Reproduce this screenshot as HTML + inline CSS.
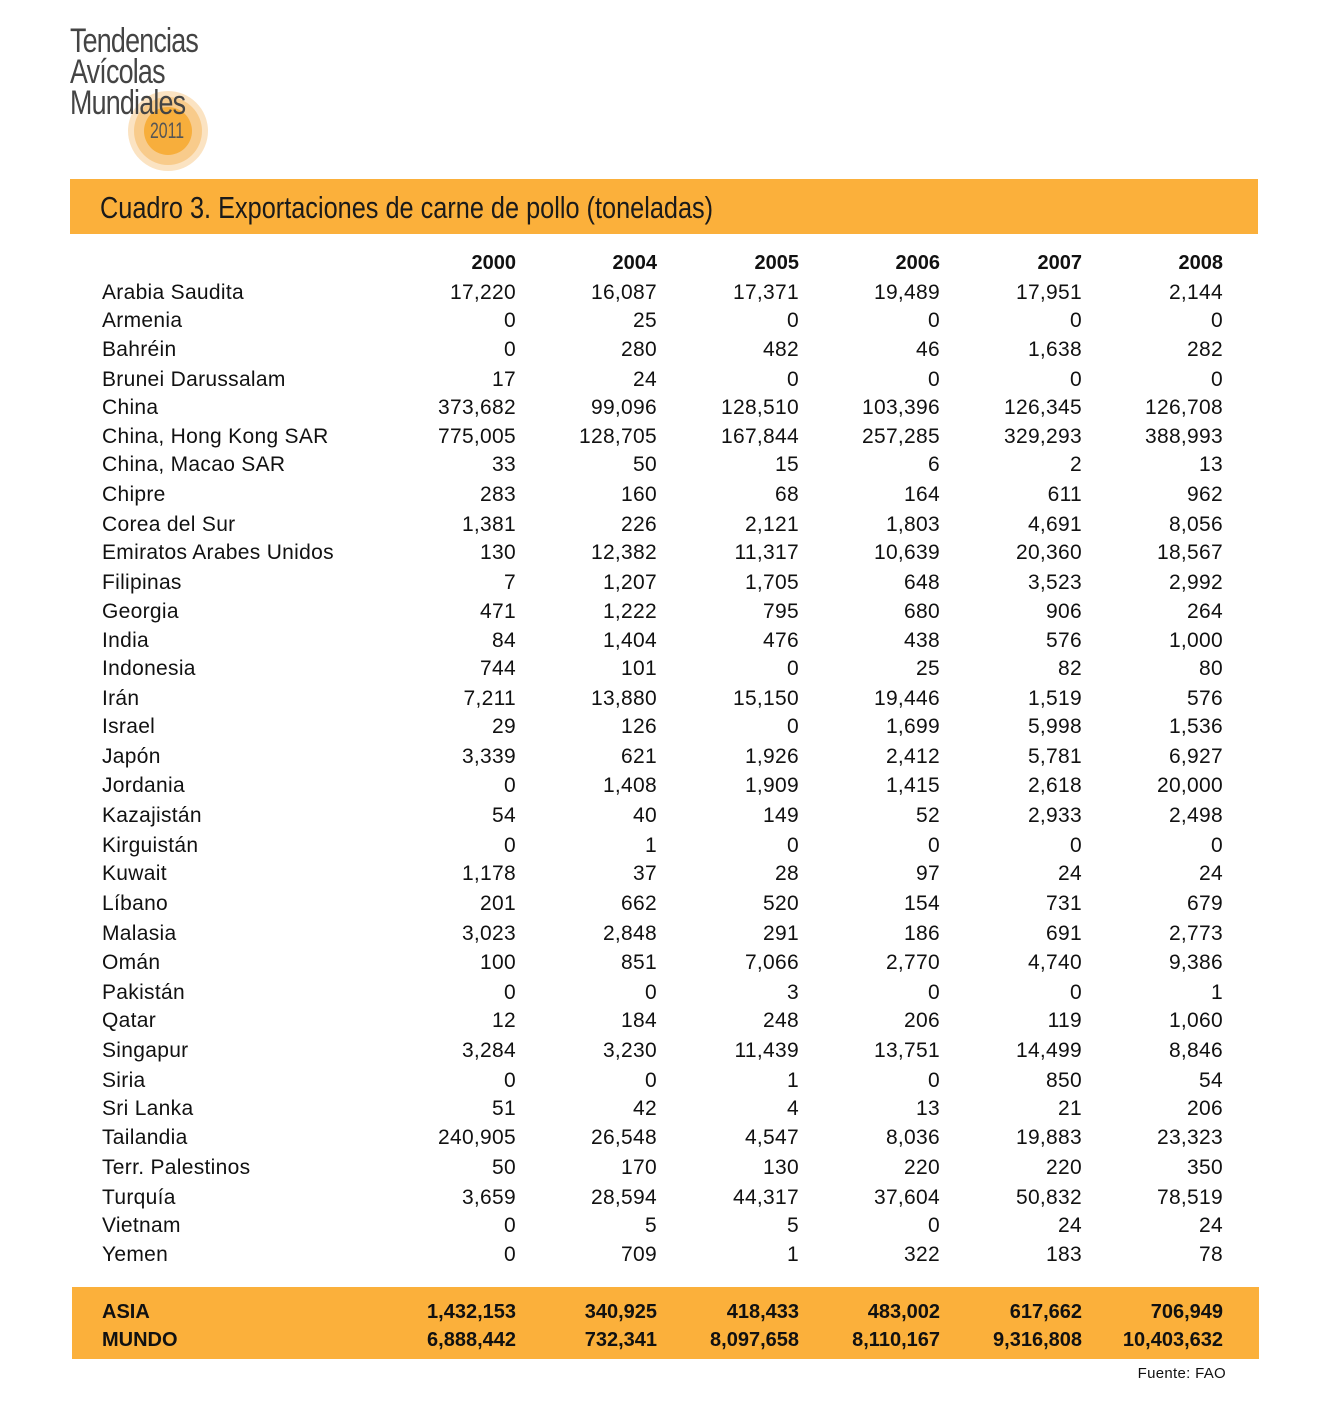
<!DOCTYPE html>
<html><head><meta charset="utf-8"><style>
body{margin:0;width:1317px;height:1405px;background:#fff;position:relative;overflow:hidden;font-family:"Liberation Sans",Arial,sans-serif;color:#111}
.a{position:absolute}
.r{position:absolute;left:0;width:1317px;height:24px;line-height:24px;font-size:21px;letter-spacing:0.3px}
.r span{position:absolute;white-space:nowrap}
.l{left:102px}
.c1{right:801px}.c2{right:660px}.c3{right:518px}.c4{right:377px}.c5{right:235px}.c6{right:94px}
.b{font-weight:bold;font-size:20px;letter-spacing:0}
.logo{position:absolute;left:70px;font-size:34px;font-weight:normal;color:#444;transform:scaleX(0.79);transform-origin:left;line-height:34px;letter-spacing:-1px}
</style></head><body>
<div class="a" style="left:128px;top:91px;width:80px;height:80px;border-radius:50%;background:#fbe3c2"></div>
<div class="a" style="left:134px;top:97px;width:68px;height:68px;border-radius:50%;background:#f8cb8b"></div>
<div class="a" style="left:144px;top:107px;width:48px;height:48px;border-radius:50%;background:#f7ae3c"></div>
<div class="logo" style="top:24px">Tendencias</div>
<div class="logo" style="top:55px">Avícolas</div>
<div class="logo" style="top:86px">Mundiales</div>
<div class="a" style="left:150px;top:119px;font-size:22px;color:#555;transform:scaleX(0.72);transform-origin:left;line-height:24px">2011</div>
<div class="a" style="left:70px;top:179px;width:1188px;height:55px;background:#fbb03b"></div>
<div class="a" style="left:100px;top:191px;font-size:31px;line-height:34px;color:#1a1a1a;transform:scaleX(0.816);transform-origin:left;white-space:nowrap">Cuadro 3. Exportaciones de carne de pollo (toneladas)</div>
<div class="a" style="left:72px;top:1287px;width:1187px;height:72px;background:#fbb03b"></div>

<div class="r b" style="top:251px"><span class="c1">2000</span><span class="c2">2004</span><span class="c3">2005</span><span class="c4">2006</span><span class="c5">2007</span><span class="c6">2008</span></div>
<div class="r" style="top:281px"><span class="l">Arabia Saudita</span><span class="c1">17,220</span><span class="c2">16,087</span><span class="c3">17,371</span><span class="c4">19,489</span><span class="c5">17,951</span><span class="c6">2,144</span></div>
<div class="r" style="top:309px"><span class="l">Armenia</span><span class="c1">0</span><span class="c2">25</span><span class="c3">0</span><span class="c4">0</span><span class="c5">0</span><span class="c6">0</span></div>
<div class="r" style="top:338px"><span class="l">Bahréin</span><span class="c1">0</span><span class="c2">280</span><span class="c3">482</span><span class="c4">46</span><span class="c5">1,638</span><span class="c6">282</span></div>
<div class="r" style="top:368px"><span class="l">Brunei Darussalam</span><span class="c1">17</span><span class="c2">24</span><span class="c3">0</span><span class="c4">0</span><span class="c5">0</span><span class="c6">0</span></div>
<div class="r" style="top:396px"><span class="l">China</span><span class="c1">373,682</span><span class="c2">99,096</span><span class="c3">128,510</span><span class="c4">103,396</span><span class="c5">126,345</span><span class="c6">126,708</span></div>
<div class="r" style="top:425px"><span class="l">China, Hong Kong SAR</span><span class="c1">775,005</span><span class="c2">128,705</span><span class="c3">167,844</span><span class="c4">257,285</span><span class="c5">329,293</span><span class="c6">388,993</span></div>
<div class="r" style="top:453px"><span class="l">China, Macao SAR</span><span class="c1">33</span><span class="c2">50</span><span class="c3">15</span><span class="c4">6</span><span class="c5">2</span><span class="c6">13</span></div>
<div class="r" style="top:483px"><span class="l">Chipre</span><span class="c1">283</span><span class="c2">160</span><span class="c3">68</span><span class="c4">164</span><span class="c5">611</span><span class="c6">962</span></div>
<div class="r" style="top:513px"><span class="l">Corea del Sur</span><span class="c1">1,381</span><span class="c2">226</span><span class="c3">2,121</span><span class="c4">1,803</span><span class="c5">4,691</span><span class="c6">8,056</span></div>
<div class="r" style="top:541px"><span class="l">Emiratos Arabes Unidos</span><span class="c1">130</span><span class="c2">12,382</span><span class="c3">11,317</span><span class="c4">10,639</span><span class="c5">20,360</span><span class="c6">18,567</span></div>
<div class="r" style="top:571px"><span class="l">Filipinas</span><span class="c1">7</span><span class="c2">1,207</span><span class="c3">1,705</span><span class="c4">648</span><span class="c5">3,523</span><span class="c6">2,992</span></div>
<div class="r" style="top:600px"><span class="l">Georgia</span><span class="c1">471</span><span class="c2">1,222</span><span class="c3">795</span><span class="c4">680</span><span class="c5">906</span><span class="c6">264</span></div>
<div class="r" style="top:629px"><span class="l">India</span><span class="c1">84</span><span class="c2">1,404</span><span class="c3">476</span><span class="c4">438</span><span class="c5">576</span><span class="c6">1,000</span></div>
<div class="r" style="top:657px"><span class="l">Indonesia</span><span class="c1">744</span><span class="c2">101</span><span class="c3">0</span><span class="c4">25</span><span class="c5">82</span><span class="c6">80</span></div>
<div class="r" style="top:687px"><span class="l">Irán</span><span class="c1">7,211</span><span class="c2">13,880</span><span class="c3">15,150</span><span class="c4">19,446</span><span class="c5">1,519</span><span class="c6">576</span></div>
<div class="r" style="top:715px"><span class="l">Israel</span><span class="c1">29</span><span class="c2">126</span><span class="c3">0</span><span class="c4">1,699</span><span class="c5">5,998</span><span class="c6">1,536</span></div>
<div class="r" style="top:745px"><span class="l">Japón</span><span class="c1">3,339</span><span class="c2">621</span><span class="c3">1,926</span><span class="c4">2,412</span><span class="c5">5,781</span><span class="c6">6,927</span></div>
<div class="r" style="top:774px"><span class="l">Jordania</span><span class="c1">0</span><span class="c2">1,408</span><span class="c3">1,909</span><span class="c4">1,415</span><span class="c5">2,618</span><span class="c6">20,000</span></div>
<div class="r" style="top:804px"><span class="l">Kazajistán</span><span class="c1">54</span><span class="c2">40</span><span class="c3">149</span><span class="c4">52</span><span class="c5">2,933</span><span class="c6">2,498</span></div>
<div class="r" style="top:834px"><span class="l">Kirguistán</span><span class="c1">0</span><span class="c2">1</span><span class="c3">0</span><span class="c4">0</span><span class="c5">0</span><span class="c6">0</span></div>
<div class="r" style="top:862px"><span class="l">Kuwait</span><span class="c1">1,178</span><span class="c2">37</span><span class="c3">28</span><span class="c4">97</span><span class="c5">24</span><span class="c6">24</span></div>
<div class="r" style="top:892px"><span class="l">Líbano</span><span class="c1">201</span><span class="c2">662</span><span class="c3">520</span><span class="c4">154</span><span class="c5">731</span><span class="c6">679</span></div>
<div class="r" style="top:922px"><span class="l">Malasia</span><span class="c1">3,023</span><span class="c2">2,848</span><span class="c3">291</span><span class="c4">186</span><span class="c5">691</span><span class="c6">2,773</span></div>
<div class="r" style="top:951px"><span class="l">Omán</span><span class="c1">100</span><span class="c2">851</span><span class="c3">7,066</span><span class="c4">2,770</span><span class="c5">4,740</span><span class="c6">9,386</span></div>
<div class="r" style="top:981px"><span class="l">Pakistán</span><span class="c1">0</span><span class="c2">0</span><span class="c3">3</span><span class="c4">0</span><span class="c5">0</span><span class="c6">1</span></div>
<div class="r" style="top:1009px"><span class="l">Qatar</span><span class="c1">12</span><span class="c2">184</span><span class="c3">248</span><span class="c4">206</span><span class="c5">119</span><span class="c6">1,060</span></div>
<div class="r" style="top:1039px"><span class="l">Singapur</span><span class="c1">3,284</span><span class="c2">3,230</span><span class="c3">11,439</span><span class="c4">13,751</span><span class="c5">14,499</span><span class="c6">8,846</span></div>
<div class="r" style="top:1069px"><span class="l">Siria</span><span class="c1">0</span><span class="c2">0</span><span class="c3">1</span><span class="c4">0</span><span class="c5">850</span><span class="c6">54</span></div>
<div class="r" style="top:1097px"><span class="l">Sri Lanka</span><span class="c1">51</span><span class="c2">42</span><span class="c3">4</span><span class="c4">13</span><span class="c5">21</span><span class="c6">206</span></div>
<div class="r" style="top:1126px"><span class="l">Tailandia</span><span class="c1">240,905</span><span class="c2">26,548</span><span class="c3">4,547</span><span class="c4">8,036</span><span class="c5">19,883</span><span class="c6">23,323</span></div>
<div class="r" style="top:1156px"><span class="l">Terr. Palestinos</span><span class="c1">50</span><span class="c2">170</span><span class="c3">130</span><span class="c4">220</span><span class="c5">220</span><span class="c6">350</span></div>
<div class="r" style="top:1186px"><span class="l">Turquía</span><span class="c1">3,659</span><span class="c2">28,594</span><span class="c3">44,317</span><span class="c4">37,604</span><span class="c5">50,832</span><span class="c6">78,519</span></div>
<div class="r" style="top:1214px"><span class="l">Vietnam</span><span class="c1">0</span><span class="c2">5</span><span class="c3">5</span><span class="c4">0</span><span class="c5">24</span><span class="c6">24</span></div>
<div class="r" style="top:1243px"><span class="l">Yemen</span><span class="c1">0</span><span class="c2">709</span><span class="c3">1</span><span class="c4">322</span><span class="c5">183</span><span class="c6">78</span></div>
<div class="r b" style="top:1300px"><span class="l">ASIA</span><span class="c1">1,432,153</span><span class="c2">340,925</span><span class="c3">418,433</span><span class="c4">483,002</span><span class="c5">617,662</span><span class="c6">706,949</span></div>
<div class="r b" style="top:1328px"><span class="l">MUNDO</span><span class="c1">6,888,442</span><span class="c2">732,341</span><span class="c3">8,097,658</span><span class="c4">8,110,167</span><span class="c5">9,316,808</span><span class="c6">10,403,632</span></div>
<div class="a" style="right:91px;top:1365px;font-size:15px;line-height:18px;letter-spacing:0.3px">Fuente: FAO</div>
</body></html>
